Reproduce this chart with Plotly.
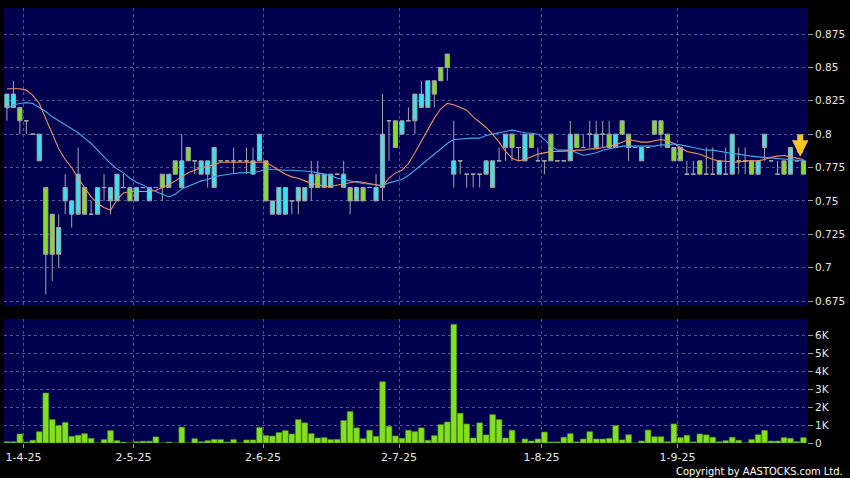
import plotly.graph_objects as go

# ---------------- data ----------------
tick_days = [2, 19, 39, 60, 82, 103]
tick_labels = ["1-4-25", "2-5-25", "2-6-25", "2-7-25", "1-8-25", "1-9-25"]

opens = [0.83, 0.83, 0.81, 0.81, 0.80, 0.80, 0.71, 0.71, 0.73, 0.76,
         0.75, 0.77, 0.74, 0.74, 0.76, 0.76, 0.76, 0.77, 0.76, 0.75,
         0.76, 0.76, 0.76, 0.76, 0.76, 0.77, 0.77, 0.78, 0.78, 0.78,
         0.78, 0.78, 0.79, 0.78, 0.78, 0.78, 0.78, 0.78, 0.78, 0.80,
         0.75, 0.75, 0.76, 0.76, 0.75, 0.76, 0.76, 0.77, 0.76, 0.77,
         0.77, 0.77, 0.77, 0.75, 0.76, 0.75, 0.76, 0.76, 0.80, 0.81,
         0.79, 0.81, 0.81, 0.83, 0.83, 0.84, 0.83, 0.84, 0.85, 0.78,
         0.78, 0.77, 0.77, 0.77, 0.78, 0.78, 0.78, 0.80, 0.79, 0.79,
         0.80, 0.79, 0.78, 0.78, 0.78, 0.78, 0.78, 0.80, 0.79, 0.79,
         0.80, 0.80, 0.80, 0.79, 0.80, 0.80, 0.79, 0.79, 0.79, 0.79,
         0.80, 0.80, 0.79, 0.78, 0.78, 0.77, 0.77, 0.77, 0.77, 0.77,
         0.78, 0.77, 0.80, 0.78, 0.78, 0.77, 0.78, 0.80, 0.78, 0.77,
         0.77, 0.79, 0.78, 0.77]
highs = [0.83, 0.84, 0.82, 0.81, 0.80, 0.80, 0.76, 0.74, 0.74, 0.77,
         0.75, 0.79, 0.76, 0.75, 0.76, 0.77, 0.76, 0.77, 0.77, 0.76,
         0.76, 0.76, 0.76, 0.76, 0.77, 0.77, 0.78, 0.80, 0.79, 0.78,
         0.78, 0.78, 0.79, 0.78, 0.78, 0.79, 0.78, 0.79, 0.79, 0.80,
         0.78, 0.75, 0.76, 0.76, 0.75, 0.76, 0.76, 0.78, 0.78, 0.77,
         0.77, 0.77, 0.78, 0.76, 0.76, 0.76, 0.76, 0.77, 0.83, 0.81,
         0.81, 0.81, 0.82, 0.83, 0.84, 0.84, 0.84, 0.85, 0.86, 0.81,
         0.78, 0.77, 0.77, 0.77, 0.78, 0.78, 0.79, 0.80, 0.80, 0.79,
         0.80, 0.80, 0.79, 0.78, 0.80, 0.78, 0.78, 0.81, 0.80, 0.80,
         0.81, 0.81, 0.81, 0.81, 0.80, 0.81, 0.80, 0.79, 0.79, 0.79,
         0.81, 0.81, 0.80, 0.79, 0.79, 0.78, 0.78, 0.78, 0.79, 0.79,
         0.78, 0.79, 0.80, 0.79, 0.79, 0.78, 0.78, 0.80, 0.78, 0.78,
         0.78, 0.79, 0.78, 0.78]
lows = [0.81, 0.82, 0.80, 0.80, 0.80, 0.78, 0.68, 0.69, 0.70, 0.74,
        0.73, 0.74, 0.74, 0.74, 0.74, 0.75, 0.74, 0.75, 0.76, 0.75,
        0.75, 0.76, 0.75, 0.76, 0.75, 0.76, 0.77, 0.76, 0.78, 0.77,
        0.77, 0.76, 0.76, 0.78, 0.78, 0.77, 0.78, 0.77, 0.77, 0.78,
        0.75, 0.74, 0.74, 0.74, 0.74, 0.74, 0.75, 0.75, 0.76, 0.76,
        0.76, 0.77, 0.76, 0.74, 0.75, 0.75, 0.76, 0.75, 0.75, 0.78,
        0.79, 0.80, 0.81, 0.80, 0.82, 0.82, 0.82, 0.84, 0.84, 0.76,
        0.77, 0.76, 0.76, 0.76, 0.77, 0.76, 0.78, 0.78, 0.78, 0.78,
        0.78, 0.79, 0.78, 0.77, 0.78, 0.78, 0.78, 0.78, 0.79, 0.79,
        0.79, 0.79, 0.79, 0.79, 0.79, 0.80, 0.78, 0.79, 0.78, 0.79,
        0.80, 0.79, 0.79, 0.78, 0.78, 0.77, 0.77, 0.77, 0.77, 0.77,
        0.77, 0.77, 0.77, 0.77, 0.77, 0.77, 0.77, 0.78, 0.78, 0.77,
        0.77, 0.77, 0.78, 0.77]
closes = [0.82, 0.82, 0.82, 0.81, 0.80, 0.78, 0.76, 0.74, 0.71, 0.75,
          0.74, 0.74, 0.76, 0.74, 0.74, 0.76, 0.75, 0.75, 0.76, 0.76,
          0.75, 0.76, 0.75, 0.76, 0.77, 0.76, 0.78, 0.76, 0.79, 0.78,
          0.77, 0.77, 0.76, 0.78, 0.78, 0.78, 0.78, 0.78, 0.77, 0.78,
          0.78, 0.74, 0.74, 0.74, 0.75, 0.75, 0.75, 0.76, 0.77, 0.76,
          0.76, 0.77, 0.76, 0.76, 0.75, 0.76, 0.76, 0.75, 0.76, 0.81,
          0.81, 0.80, 0.81, 0.81, 0.82, 0.82, 0.84, 0.85, 0.86, 0.77,
          0.78, 0.77, 0.77, 0.77, 0.77, 0.76, 0.78, 0.79, 0.80, 0.79,
          0.78, 0.80, 0.78, 0.78, 0.80, 0.78, 0.78, 0.78, 0.80, 0.79,
          0.80, 0.79, 0.80, 0.80, 0.79, 0.81, 0.80, 0.79, 0.78, 0.79,
          0.81, 0.81, 0.80, 0.79, 0.79, 0.77, 0.77, 0.78, 0.77, 0.77,
          0.77, 0.77, 0.77, 0.78, 0.78, 0.78, 0.77, 0.79, 0.78, 0.77,
          0.78, 0.77, 0.78, 0.78]

ma10 = [0.834, 0.834, 0.834, 0.833, 0.829, 0.823, 0.812, 0.800, 0.789, 0.781,
        0.775, 0.767, 0.760, 0.753, 0.748, 0.745, 0.743, 0.751, 0.756, 0.757,
        0.757, 0.757, 0.757, 0.758, 0.760, 0.762, 0.765, 0.768, 0.771, 0.773,
        0.775, 0.776, 0.777, 0.779, 0.779, 0.779, 0.779, 0.779, 0.779, 0.779,
        0.779, 0.776, 0.773, 0.770, 0.768, 0.767, 0.765, 0.763, 0.762, 0.761,
        0.761, 0.762, 0.763, 0.764, 0.7645, 0.764, 0.763, 0.762, 0.761, 0.767,
        0.771, 0.773, 0.778, 0.786, 0.795, 0.804, 0.812, 0.819, 0.823, 0.822,
        0.820, 0.818, 0.813, 0.809, 0.805, 0.800, 0.794, 0.787, 0.782, 0.780,
        0.781, 0.783, 0.785, 0.786, 0.787, 0.787, 0.787, 0.7875, 0.788, 0.788,
        0.789, 0.789, 0.790, 0.791, 0.792, 0.794, 0.796, 0.795, 0.794, 0.794,
        0.795, 0.796, 0.795, 0.793, 0.790, 0.787, 0.786, 0.785, 0.783, 0.781,
        0.780, 0.7795, 0.779, 0.779, 0.780, 0.780, 0.780, 0.781, 0.7827, 0.7835,
        0.784, 0.783, 0.782, 0.781]
ma20 = [0.819, 0.822, 0.823, 0.8236, 0.823, 0.820, 0.817, 0.813, 0.810, 0.807,
        0.804, 0.801, 0.797, 0.793, 0.788, 0.783, 0.778, 0.774, 0.771, 0.767,
        0.764, 0.762, 0.759, 0.757, 0.755, 0.753, 0.755, 0.759, 0.761, 0.763,
        0.765, 0.766, 0.768, 0.769, 0.770, 0.7705, 0.771, 0.771, 0.7715, 0.772,
        0.774, 0.7735, 0.773, 0.773, 0.773, 0.7727, 0.7725, 0.772, 0.771, 0.770,
        0.769, 0.767, 0.766, 0.7645, 0.764, 0.763, 0.7627, 0.762, 0.7615, 0.7635,
        0.765, 0.766, 0.769, 0.773, 0.777, 0.781, 0.785, 0.789, 0.793, 0.796,
        0.7965, 0.797, 0.797, 0.797, 0.799, 0.800, 0.801, 0.802, 0.803, 0.802,
        0.801, 0.8007, 0.800, 0.796, 0.791, 0.788, 0.788, 0.788, 0.786, 0.784,
        0.785, 0.786, 0.788, 0.789, 0.790, 0.791, 0.791, 0.791, 0.791, 0.791,
        0.791, 0.792, 0.792, 0.7927, 0.792, 0.791, 0.790, 0.789, 0.788, 0.788,
        0.787, 0.786, 0.7855, 0.785, 0.784, 0.7835, 0.783, 0.7825, 0.782, 0.7815,
        0.781, 0.7808, 0.7805, 0.7805]

volume = [70, 70, 500, 50, 150, 630, 2780, 1300, 970, 1140,
          370, 430, 520, 260, 0, 190, 690, 130, 50, 0,
          70, 100, 100, 340, 0, 50, 0, 880, 0, 240,
          70, 130, 200, 190, 50, 190, 0, 170, 170, 860,
          410, 390, 580, 690, 500, 1300, 1120, 520, 280, 300,
          190, 200, 1250, 1750, 840, 240, 710, 370, 3410, 930,
          390, 260, 710, 630, 840, 150, 410, 1020, 1170, 6600,
          1650, 1060, 280, 1120, 450, 1580, 1300, 280, 710, 0,
          220, 110, 220, 610, 60, 60, 320, 520, 60, 220,
          630, 220, 220, 260, 970, 170, 460, 0, 110, 720,
          350, 350, 70, 1060, 300, 430, 60, 500, 450, 320,
          70, 130, 320, 150, 0, 190, 460, 700, 110, 110,
          300, 260, 70, 300]

price_ticks = [0.675, 0.7, 0.725, 0.75, 0.775, 0.8, 0.825, 0.85, 0.875]
price_tick_labels = ["0.675", "0.7", "0.725", "0.75", "0.775", "0.8", "0.825", "0.85", "0.875"]
vol_ticks = [0, 1000, 2000, 3000, 4000, 5000, 6000]
vol_tick_labels = ["0", "1K", "2K", "3K", "4K", "5K", "6K"]

# ---------------- styling ----------------
BG = "#000000"
PANEL = "#00004e"
GRID = "#55558f"
CYAN = "#36e4f0"
GREEN = "#82e021"
WICK = "#a4a4a4"
TXT = "#e6e6e6"
FONT = "DejaVu Sans"

idx = list(range(len(closes)))
grid_pos = [t + 0.55 for t in tick_days]

fig = go.Figure()

def add_candles(sel, fill, name):
    fig.add_trace(go.Candlestick(
        x=[idx[i] for i in sel],
        open=[opens[i] for i in sel], high=[highs[i] for i in sel],
        low=[lows[i] for i in sel], close=[closes[i] for i in sel],
        increasing=dict(fillcolor=fill, line=dict(color=WICK, width=1)),
        decreasing=dict(fillcolor=fill, line=dict(color=WICK, width=1)),
        whiskerwidth=0, name=name, showlegend=False, hoverinfo="skip",
        xaxis="x", yaxis="y"))

down = [i for i in idx if closes[i] < opens[i]]
up = [i for i in idx if closes[i] > opens[i]]
flat = [i for i in idx if closes[i] == opens[i]]
add_candles(flat, WICK, "flat")
add_candles(down, CYAN, "down")
add_candles(up, GREEN, "up")

fig.add_trace(go.Scatter(x=idx, y=ma20, mode="lines", line=dict(color="#4aa6ec", width=1.1),
                         showlegend=False, hoverinfo="skip", xaxis="x", yaxis="y"))
fig.add_trace(go.Scatter(x=idx, y=ma10, mode="lines", line=dict(color="#e8925e", width=1.1),
                         showlegend=False, hoverinfo="skip", xaxis="x", yaxis="y"))

fig.add_trace(go.Bar(x=idx, y=volume, width=0.88,
                     marker=dict(color=GREEN, line=dict(color="#4f9a12", width=0.6)),
                     showlegend=False, hoverinfo="skip", xaxis="x2", yaxis="y2"))

xr = [-0.45, len(closes) - 0.45]
common_x = dict(range=xr, tickvals=grid_pos, showgrid=True, gridcolor=GRID, griddash="3px,3px",
                gridwidth=1, zeroline=False, showline=False, fixedrange=True)
fig.update_layout(
    width=850, height=478,
    paper_bgcolor=BG, plot_bgcolor=PANEL,
    margin=dict(l=4, r=43, t=8, b=35),
    boxgap=0.08,
    xaxis=dict(**common_x, anchor="y", showticklabels=False, ticks="",
               rangeslider=dict(visible=False)),
    xaxis2=dict(**common_x, anchor="y2", ticktext=tick_labels, ticks="outside", ticklen=4,
                tickcolor="#9a9a9a", tickfont=dict(family=FONT, size=11, color=TXT)),
    yaxis=dict(domain=[0.3149, 1], range=[0.67125, 0.8945], side="right",
               tickvals=price_ticks, ticktext=price_tick_labels,
               showgrid=True, gridcolor=GRID, griddash="3px,3px", zeroline=False,
               ticks="outside", ticklen=5, tickcolor="#9a9a9a",
               tickfont=dict(family=FONT, size=10.5, color=TXT), fixedrange=True),
    yaxis2=dict(domain=[0, 0.2851], range=[0, 6900], side="right",
                tickvals=vol_ticks, ticktext=vol_tick_labels,
                showgrid=True, gridcolor=GRID, griddash="3px,3px", zeroline=False,
                ticks="outside", ticklen=5, tickcolor="#9a9a9a",
                tickfont=dict(family=FONT, size=10.5, color=TXT), fixedrange=True),
    showlegend=False,
)

# marker arrow above the latest candles
fig.add_annotation(x=idx[-1] - 0.5, y=highs[-2] + 0.003, xref="x", yref="y",
                   text="", showarrow=True, ax=0, ay=-24, arrowhead=2, arrowsize=0.55,
                   arrowwidth=6, arrowcolor="#f7c52a")

fig.add_annotation(x=1.0473, y=-0.0655, xref="paper", yref="paper", xanchor="right", yanchor="middle",
                   text="Copyright by AASTOCKS.com Ltd.", showarrow=False,
                   font=dict(family="DejaVu Sans Condensed, Liberation Sans Narrow, DejaVu Sans",
                             size=11, color="#ffffff"))

fig.write_html("out.html", config={"displayModeBar": False},
               post_script="document.body.style.margin='0';document.body.style.overflow='hidden';")
